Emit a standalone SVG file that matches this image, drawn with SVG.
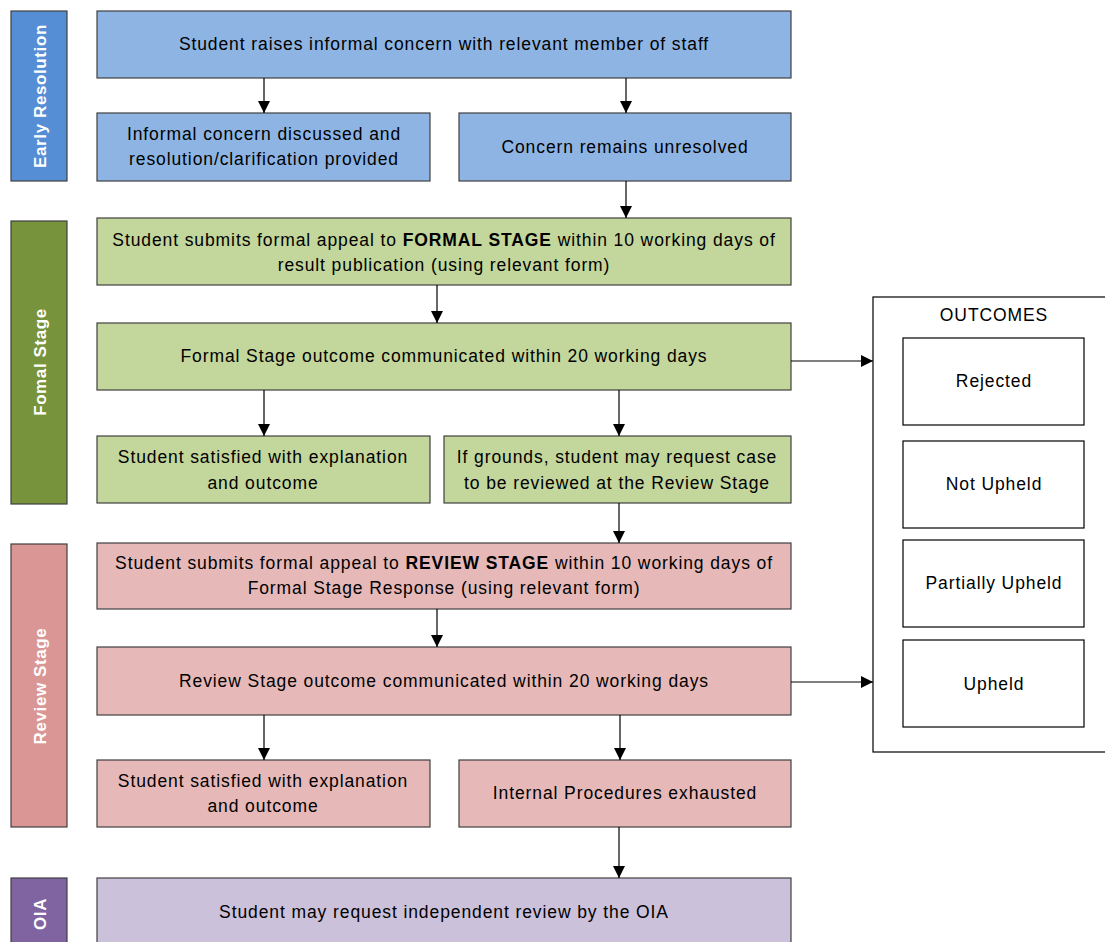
<svg xmlns="http://www.w3.org/2000/svg" width="1105" height="942" viewBox="0 0 1105 942">
<style>
text{font-family:"Liberation Sans",Arial,sans-serif;font-size:17.5px;letter-spacing:0.9px;fill:#000;text-anchor:middle;dominant-baseline:central}
.side text{fill:#fff;font-weight:bold;font-size:17px;letter-spacing:0.6px}
rect{stroke:#404040;stroke-width:1.2}
.blue{fill:#8EB4E3}.blueS{fill:#558ED5}
.green{fill:#C3D69B}.greenS{fill:#77933C}
.pink{fill:#E6B9B8}.pinkS{fill:#D99694}
.purple{fill:#CCC1DA}.purpleS{fill:#8064A2}
.out{fill:#fff;stroke:#000}
#connectors line{stroke:#000;stroke-width:1.2;marker-end:url(#ah)}
</style>
<defs>
<marker id="ah" viewBox="0 0 12 12" refX="12" refY="6" markerWidth="12" markerHeight="12" markerUnits="userSpaceOnUse" orient="auto"><path d="M0,0 L12,6 L0,12 Z" fill="#000"/></marker>
</defs>
<rect width="1105" height="942" style="fill:#fff;stroke:none"/>
<g class="side">
<g id="side-early"><rect class="blueS" x="11" y="11" width="56" height="170"/><text transform="translate(40,96) rotate(-90)">Early Resolution</text></g>
<g id="side-formal"><rect class="greenS" x="11" y="221" width="56" height="283"/><text transform="translate(40,362) rotate(-90)">Fomal Stage</text></g>
<g id="side-review"><rect class="pinkS" x="11" y="544" width="56" height="283"/><text transform="translate(40,686) rotate(-90)">Review Stage</text></g>
<g id="side-oia"><rect class="purpleS" x="11" y="878" width="56" height="80"/><text transform="translate(40,914) rotate(-90)">OIA</text></g>
</g>
<g id="n1"><rect class="blue" x="97" y="11" width="694" height="67"/><text x="444" y="44">Student raises informal concern with relevant member of staff</text></g>
<g id="n2"><rect class="blue" x="97" y="113" width="333" height="68"/><text x="264" y="134">Informal concern discussed and</text><text x="264" y="159">resolution/clarification provided</text></g>
<g id="n3"><rect class="blue" x="459" y="113" width="332" height="68"/><text x="625" y="147">Concern remains unresolved</text></g>
<g id="n4"><rect class="green" x="97" y="218" width="694" height="67"/><text x="444" y="240">Student submits formal appeal to <tspan font-weight="bold">FORMAL STAGE</tspan> within 10 working days of</text><text x="444" y="265">result publication (using relevant form)</text></g>
<g id="n5"><rect class="green" x="97" y="323" width="694" height="67"/><text x="444" y="356">Formal Stage outcome communicated within 20 working days</text></g>
<g id="n6"><rect class="green" x="97" y="436" width="333" height="67"/><text x="263" y="457">Student satisfied with explanation</text><text x="263" y="483">and outcome</text></g>
<g id="n7"><rect class="green" x="444" y="436" width="347" height="67"/><text x="617" y="457">If grounds, student may request case</text><text x="617" y="483">to be reviewed at the Review Stage</text></g>
<g id="n8"><rect class="pink" x="97" y="543" width="694" height="66"/><text x="444" y="563">Student submits formal appeal to <tspan font-weight="bold">REVIEW STAGE</tspan> within 10 working days of</text><text x="444" y="588">Formal Stage Response (using relevant form)</text></g>
<g id="n9"><rect class="pink" x="97" y="647" width="694" height="68"/><text x="444" y="681">Review Stage outcome communicated within 20 working days</text></g>
<g id="n10"><rect class="pink" x="97" y="760" width="333" height="67"/><text x="263" y="781">Student satisfied with explanation</text><text x="263" y="806">and outcome</text></g>
<g id="n11"><rect class="pink" x="459" y="760" width="332" height="67"/><text x="625" y="793">Internal Procedures exhausted</text></g>
<g id="n12"><rect class="purple" x="97" y="878" width="694" height="80"/><text x="444" y="912">Student may request independent review by the OIA</text></g>
<g id="outcomes"><rect class="out" x="873" y="297" width="250" height="455"/><text x="994" y="315">OUTCOMES</text></g>
<g id="o1"><rect class="out" x="903" y="338" width="181" height="87"/><text x="994" y="381">Rejected</text></g>
<g id="o2"><rect class="out" x="903" y="441" width="181" height="87"/><text x="994" y="484">Not Upheld</text></g>
<g id="o3"><rect class="out" x="903" y="540" width="181" height="87"/><text x="994" y="583">Partially Upheld</text></g>
<g id="o4"><rect class="out" x="903" y="640" width="181" height="87"/><text x="994" y="684">Upheld</text></g>
<g id="connectors">
<line x1="264" y1="78" x2="264" y2="113"/>
<line x1="626" y1="78" x2="626" y2="113"/>
<line x1="626" y1="181" x2="626" y2="218"/>
<line x1="437" y1="285" x2="437" y2="323"/>
<line x1="791" y1="361" x2="873" y2="361"/>
<line x1="264" y1="390" x2="264" y2="436"/>
<line x1="619" y1="390" x2="619" y2="436"/>
<line x1="619" y1="503" x2="619" y2="543"/>
<line x1="437" y1="609" x2="437" y2="647"/>
<line x1="791" y1="682" x2="873" y2="682"/>
<line x1="264" y1="715" x2="264" y2="760"/>
<line x1="620" y1="715" x2="620" y2="760"/>
<line x1="619" y1="827" x2="619" y2="878"/>
</g>
</svg>
